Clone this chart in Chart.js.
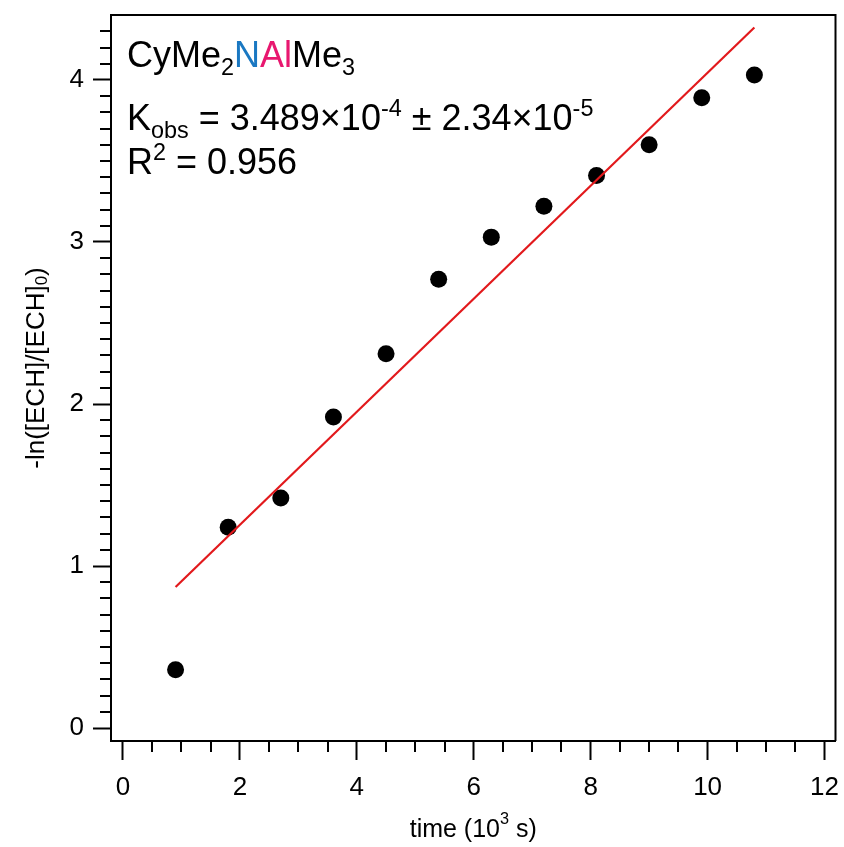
<!DOCTYPE html>
<html>
<head>
<meta charset="utf-8">
<script src="https://cdn.jsdelivr.net/npm/chart.js@4"></script>
<style>
  html, body { margin: 0; padding: 0; background: #fff; }
</style>
</head>
<body>
<canvas id="kineticsChart" width="844" height="847"></canvas>
<script>
// time in 10^3 s, -ln([ECH]/[ECH]0)
const timeValues = [0.9, 1.8, 2.7, 3.6, 4.5, 5.4, 6.3, 7.2, 8.1, 9.0, 9.9, 10.8];
const lnValues = [0.36, 1.24, 1.42, 1.92, 2.31, 2.77, 3.03, 3.22, 3.41, 3.60, 3.89, 4.03];

// linear fit
const fitTimes = [0.9, 10.8];
const fitSlope = 0.3489;
const fitIntercept = 0.556;

const xTickLabels = [0, 2, 4, 6, 8, 10, 12];
const yTickLabels = [0, 1, 2, 3, 4];

const fontFamily = '"Liberation Sans", Arial, sans-serif';

function drawRich(ctx, x, y, parts, size, align) {
    const widths = parts.map(p => {
        const s = p.s ? size * 0.65 : size;
        ctx.font = s + 'px ' + fontFamily;
        return ctx.measureText(p.t).width;
    });
    const total = widths.reduce((a, b) => a + b, 0);
    let cx = align === 'center' ? x - total / 2 : x;
    parts.forEach((p, i) => {
        const s = p.s ? size * 0.65 : size;
        let dy = 0;
        if (p.s === 'sub') dy = size * 0.22;
        if (p.s === 'sup') dy = -size * 0.4;
        ctx.font = s + 'px ' + fontFamily;
        ctx.fillStyle = p.c || '#000';
        ctx.fillText(p.t, cx, y + dy);
        cx += widths[i];
    });
}

const framePlugin = {
    id: 'frame',
    afterDraw(chart) {
        const ctx = chart.ctx;
        const ca = chart.chartArea;
        const xs = chart.scales.x;
        const ys = chart.scales.y;
        ctx.save();
        ctx.strokeStyle = '#000';
        ctx.lineWidth = 2;

        // top and right of the box
        ctx.beginPath();
        ctx.moveTo(ca.left, ca.top);
        ctx.lineTo(ca.right, ca.top);
        ctx.lineTo(ca.right, ca.bottom);
        ctx.stroke();

        // minor ticks
        ctx.beginPath();
        for (let i = 0; i <= 24; i++) {
            if (i % 4 === 0) continue;
            const px = Math.round(xs.getPixelForValue(i * 0.5));
            ctx.moveTo(px, ca.bottom);
            ctx.lineTo(px, ca.bottom + 11);
        }
        for (let i = 0; i <= 43; i++) {
            if (i % 10 === 0) continue;
            const py = Math.round(ys.getPixelForValue(i * 0.1));
            ctx.moveTo(ca.left, py);
            ctx.lineTo(ca.left - 11, py);
        }
        ctx.stroke();

        // annotation
        ctx.textBaseline = 'alphabetic';
        const ax = ca.left + 16;
        drawRich(ctx, ax, 67, [
            { t: 'CyMe' }, { t: '2', s: 'sub' },
            { t: 'N', c: '#1a78c2' }, { t: 'Al', c: '#e8176f' },
            { t: 'Me' }, { t: '3', s: 'sub' }
        ], 36);
        drawRich(ctx, ax, 130, [
            { t: 'K' }, { t: 'obs', s: 'sub' },
            { t: ' = 3.489\u00d710' }, { t: '-4', s: 'sup' },
            { t: ' \u00b1 2.34\u00d710' }, { t: '-5', s: 'sup' }
        ], 36);
        drawRich(ctx, ax, 174, [
            { t: 'R' }, { t: '2', s: 'sup' }, { t: ' = 0.956' }
        ], 36);

        // axis titles
        ctx.textBaseline = 'middle';
        drawRich(ctx, (ca.left + ca.right) / 2, 830, [
            { t: 'time (10' }, { t: '3', s: 'sup' }, { t: ' s)' }
        ], 25, 'center');

        ctx.translate(37, 368);
        ctx.rotate(-Math.PI / 2);
        drawRich(ctx, 0, 0, [
            { t: '-ln([ECH]/[ECH]' }, { t: '0', s: 'sub' }, { t: ')' }
        ], 26, 'center');
        ctx.restore();
    }
};

const tickFont = { family: fontFamily, size: 26 };

new Chart(document.getElementById('kineticsChart'), {
    type: 'scatter',
    data: {
        datasets: [{
            data: fitTimes.map(t => ({ x: t, y: fitSlope * t + fitIntercept })),
            showLine: true,
            borderColor: '#e2191c',
            borderWidth: 2.2,
            pointRadius: 0,
            order: 0
        }, {
            data: timeValues.map((t, i) => ({ x: t, y: lnValues[i] })),
            backgroundColor: '#000',
            borderWidth: 0,
            pointRadius: 8.5,
            order: 1
        }]
    },
    options: {
        responsive: false,
        animation: false,
        devicePixelRatio: 1,
        layout: { padding: { top: 15, right: 6, left: 0, bottom: 0 } },
        plugins: {
            legend: { display: false },
            tooltip: { enabled: false }
        },
        scales: {
            x: {
                type: 'linear',
                min: -0.2045,
                max: 12.1875,
                afterFit: s => { s.height = 106; s.paddingLeft = 0; s.paddingRight = 0; },
                afterBuildTicks: s => { s.ticks = xTickLabels.map(v => ({ value: v })); },
                ticks: { font: tickFont, color: '#000', padding: 12, maxRotation: 0, autoSkip: false },
                grid: { drawOnChartArea: false, drawTicks: true, tickLength: 19, tickWidth: 2, tickColor: '#000' },
                border: { color: '#000', width: 2 }
            },
            y: {
                type: 'linear',
                min: -0.08,
                max: 4.401,
                afterFit: s => { s.width = 111; s.paddingTop = 0; s.paddingBottom = 0; },
                afterBuildTicks: s => { s.ticks = yTickLabels.map(v => ({ value: v })); },
                ticks: { font: tickFont, color: '#000', padding: 9, autoSkip: false },
                grid: { drawOnChartArea: false, drawTicks: true, tickLength: 18, tickWidth: 2, tickColor: '#000' },
                border: { color: '#000', width: 2 }
            }
        }
    },
    plugins: [framePlugin]
});
</script>
</body>
</html>
